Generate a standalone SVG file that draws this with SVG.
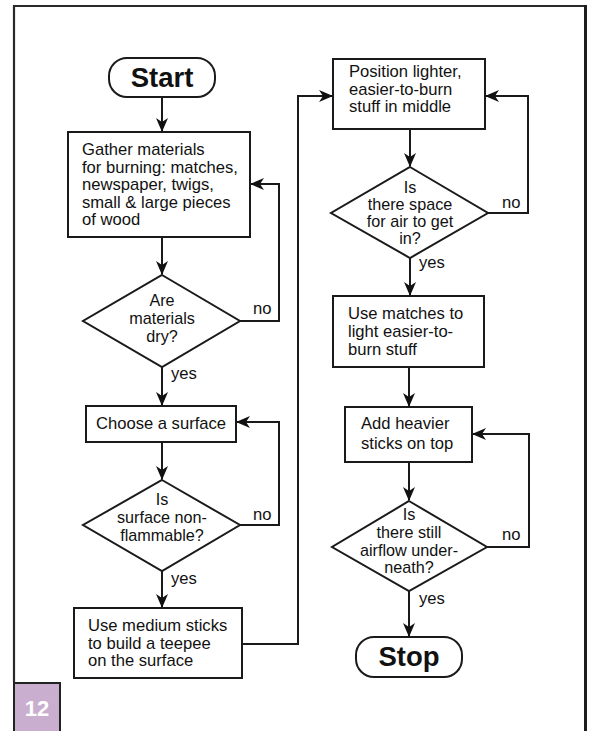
<svg xmlns="http://www.w3.org/2000/svg" width="589" height="731" viewBox="0 0 589 731">
<defs>
<marker id="ah" markerUnits="userSpaceOnUse" markerWidth="14" markerHeight="12" refX="13" refY="6" orient="auto">
<path d="M0,0 L14,6 L0,12 L4,6 z" fill="#111"/>
</marker>
<style>
.shape{fill:#fff;stroke:#1a1a1a;stroke-width:2}
.t{font-family:"Liberation Sans",Arial,sans-serif;font-size:16.6px;fill:#111}
.c{text-anchor:middle}
.d{font-size:16.2px}
.b{font-family:"Liberation Sans",Arial,sans-serif;font-weight:bold;font-size:27.5px;fill:#111;text-anchor:middle}
.con{fill:none;stroke:#1a1a1a;stroke-width:2}
.arr{marker-end:url(#ah)}
</style>
</defs>
<rect width="589" height="731" fill="#fff"/>
<g id="frame">
<path d="M14,682 L14,6 L585,6" fill="none" stroke="#2a2a2a" stroke-width="2.2"/>
<line x1="585.5" y1="5" x2="585.5" y2="731" stroke="#1e1e1e" stroke-width="3"/>
</g>
<g id="badge">
<rect x="14" y="683" width="46" height="49" fill="#c9aed0"/>
<path d="M13,683 L60,683 L60,731" fill="none" stroke="#222" stroke-width="2"/>
<line x1="14" y1="683" x2="14" y2="731" stroke="#222" stroke-width="2"/>
<text x="37" y="716" font-family="Liberation Sans,Arial,sans-serif" font-weight="bold" font-size="22" fill="#fff" text-anchor="middle">12</text>
</g>
<g id="connectors">
<line class="con arr" x1="162" y1="97" x2="162" y2="131"/>
<line class="con arr" x1="162" y1="237" x2="162" y2="274"/>
<path class="con arr" d="M240,321 L279,321 L279,184 L251,184"/>
<line class="con arr" x1="162" y1="367" x2="162" y2="405"/>
<line class="con arr" x1="162" y1="442" x2="162" y2="479"/>
<path class="con arr" d="M240,525 L279,525 L279,422 L237,422"/>
<line class="con arr" x1="162" y1="571" x2="162" y2="607"/>
<path class="con arr" d="M242,644 L298,644 L298,96 L332,96"/>
<line class="con arr" x1="410" y1="129" x2="410" y2="166"/>
<path class="con arr" d="M488,213 L528,213 L528,96 L486,96"/>
<line class="con arr" x1="410" y1="258" x2="410" y2="295"/>
<line class="con arr" x1="409" y1="367" x2="409" y2="406"/>
<path class="con arr" d="M487,547 L529,547 L529,434 L473,434"/>
<line class="con arr" x1="409" y1="462" x2="409" y2="500"/>
<line class="con arr" x1="409" y1="591" x2="409" y2="636"/>
<text class="t" x="253" y="314">no</text>
<text class="t" x="171" y="379">yes</text>
<text class="t" x="253" y="520">no</text>
<text class="t" x="171" y="584">yes</text>
<text class="t" x="502" y="208">no</text>
<text class="t" x="419" y="268">yes</text>
<text class="t" x="502" y="540">no</text>
<text class="t" x="419" y="604">yes</text>
</g>
<g id="start">
<rect class="shape" x="109" y="58" width="106" height="39" rx="18"/>
<text class="b" x="162" y="86.5">Start</text>
</g>
<g id="gather">
<rect class="shape" x="68" y="132" width="182" height="105"/>
<text class="t" x="82" y="155">Gather materials</text>
<text class="t" x="82" y="172.5">for burning: matches,</text>
<text class="t" x="82" y="190">newspaper, twigs,</text>
<text class="t" x="82" y="207.5">small &amp; large pieces</text>
<text class="t" x="82" y="225">of wood</text>
</g>
<g id="dry">
<polygon class="shape" points="162,275 240,321 162,367 83,321"/>
<text class="t c d" x="162" y="306">Are</text>
<text class="t c d" x="162" y="324">materials</text>
<text class="t c d" x="162" y="342">dry?</text>
</g>
<g id="surface">
<rect class="shape" x="86" y="406" width="150" height="36"/>
<text class="t c" x="161" y="429">Choose a surface</text>
</g>
<g id="nonflammable">
<polygon class="shape" points="162,480 240,525 162,571 83,525"/>
<text class="t c d" x="162" y="505">Is</text>
<text class="t c d" x="162" y="523">surface non-</text>
<text class="t c d" x="162" y="541">flammable?</text>
</g>
<g id="teepee">
<rect class="shape" x="74" y="608" width="168" height="70"/>
<text class="t" x="88" y="631">Use medium sticks</text>
<text class="t" x="88" y="648.5">to build a teepee</text>
<text class="t" x="88" y="666">on the surface</text>
</g>
<g id="position">
<rect class="shape" x="333" y="59" width="152" height="70"/>
<text class="t" x="349" y="77">Position lighter,</text>
<text class="t" x="349" y="94.5">easier-to-burn</text>
<text class="t" x="349" y="112">stuff in middle</text>
</g>
<g id="space">
<polygon class="shape" points="410,167 488,213 410,258 331,213"/>
<text class="t c d" x="410" y="193">Is</text>
<text class="t c d" x="410" y="210">there space</text>
<text class="t c d" x="410" y="227">for air to get</text>
<text class="t c d" x="410" y="244">in?</text>
</g>
<g id="light">
<rect class="shape" x="333" y="296" width="151" height="71"/>
<text class="t" x="348" y="319">Use matches to</text>
<text class="t" x="348" y="337">light easier-to-</text>
<text class="t" x="348" y="355">burn stuff</text>
</g>
<g id="heavier">
<rect class="shape" x="345" y="407" width="127" height="55"/>
<text class="t" x="361" y="429">Add heavier</text>
<text class="t" x="361" y="449">sticks on top</text>
</g>
<g id="airflow">
<polygon class="shape" points="409,501 487,547 409,591 332,547"/>
<text class="t c d" x="409" y="520">Is</text>
<text class="t c d" x="409" y="538">there still</text>
<text class="t c d" x="409" y="556">airflow under-</text>
<text class="t c d" x="409" y="573">neath?</text>
</g>
<g id="stop">
<rect class="shape" x="356" y="637" width="106" height="40" rx="18"/>
<text class="b" x="409" y="666">Stop</text>
</g>
</svg>
